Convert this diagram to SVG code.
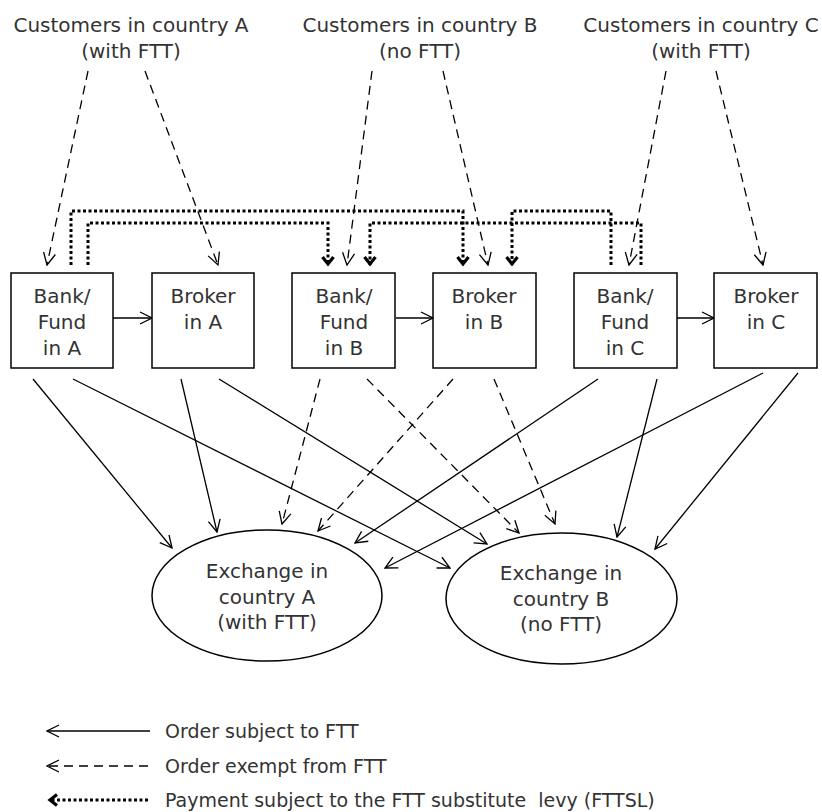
<svg xmlns="http://www.w3.org/2000/svg" width="822" height="812" viewBox="0 0 822 812">
<style>
text{font-family:"DejaVu Sans","Liberation Sans",sans-serif;font-size:20px;fill:#333;text-anchor:middle}
.box{fill:#fff;stroke:#000;stroke-width:1.5}
.ell{fill:#fff;stroke:#000;stroke-width:1.5}
.sol{fill:none;stroke:#000;stroke-width:1.3;marker-end:url(#open)}
.dash{fill:none;stroke:#000;stroke-width:1.3;stroke-dasharray:9 6;marker-end:url(#open)}
.dot{fill:none;stroke:#000;stroke-width:3;stroke-dasharray:3 2.5;marker-end:url(#bold)}
.leg{text-anchor:start;font-size:19px}
</style>
<defs>
<marker id="open" viewBox="0 0 14 14" refX="13" refY="7" markerWidth="14" markerHeight="14" markerUnits="userSpaceOnUse" orient="auto">
<path d="M1,1 L13,7 L1,13" fill="none" stroke="#000" stroke-width="1.3" stroke-dasharray="none"/>
</marker>
<marker id="bold" viewBox="0 0 12 14" refX="10" refY="7" markerWidth="12" markerHeight="14" markerUnits="userSpaceOnUse" orient="auto">
<path d="M2,1.5 L9,7 L2,12.5" fill="none" stroke="#000" stroke-width="3.2" stroke-dasharray="none"/>
</marker>
</defs>

<g id="connectors">
<line class="dash" x1="88" y1="71" x2="47" y2="265"/>
<line class="dash" x1="145" y1="71" x2="218" y2="265"/>
<line class="dash" x1="372" y1="71" x2="347" y2="265"/>
<line class="dash" x1="443" y1="71" x2="488" y2="265"/>
<line class="dash" x1="666" y1="71" x2="629" y2="265"/>
<line class="dash" x1="716" y1="71" x2="763" y2="265"/>
<polyline class="dot" points="71,265 71,211 463,211 463,265"/>
<polyline class="dot" points="88,265 88,223 328,223 328,265"/>
<polyline class="dot" points="641,265 641,223 370,223 370,265"/>
<polyline class="dot" points="611,265 611,211 512,211 512,265"/>
<line class="sol" x1="113" y1="318" x2="152" y2="318"/>
<line class="sol" x1="396" y1="318" x2="433" y2="318"/>
<line class="sol" x1="677" y1="318" x2="714" y2="318"/>
<line class="sol" x1="33" y1="379" x2="172" y2="548"/>
<line class="sol" x1="73" y1="379" x2="450" y2="568"/>
<line class="sol" x1="181" y1="379" x2="217" y2="532"/>
<line class="sol" x1="219" y1="379" x2="487" y2="544"/>
<line class="dash" x1="320" y1="379" x2="282" y2="524"/>
<line class="dash" x1="367" y1="379" x2="519" y2="533"/>
<line class="dash" x1="453" y1="379" x2="318" y2="531"/>
<line class="dash" x1="494" y1="379" x2="555" y2="524"/>
<line class="sol" x1="598" y1="379" x2="355" y2="543"/>
<line class="sol" x1="657" y1="379" x2="617" y2="537"/>
<line class="sol" x1="763" y1="373" x2="385" y2="568"/>
<line class="sol" x1="798" y1="373" x2="655" y2="549"/>
</g>

<g id="custA"><text x="131" y="32">Customers in country A</text><text x="131" y="58">(with FTT)</text></g>
<g id="custB"><text x="420" y="32">Customers in country B</text><text x="420" y="58">(no FTT)</text></g>
<g id="custC"><text x="701" y="32">Customers in country C</text><text x="701" y="58">(with FTT)</text></g>

<g id="bankA"><rect class="box" x="11" y="273" width="102" height="95"/><text x="62" y="303">Bank/</text><text x="62" y="329">Fund</text><text x="62" y="355">in A</text></g>
<g id="brokerA"><rect class="box" x="152" y="273" width="102" height="95"/><text x="203" y="303">Broker</text><text x="203" y="329">in A</text></g>
<g id="bankB"><rect class="box" x="292" y="273" width="103" height="95"/><text x="344" y="303">Bank/</text><text x="344" y="329">Fund</text><text x="344" y="355">in B</text></g>
<g id="brokerB"><rect class="box" x="433" y="273" width="103" height="95"/><text x="484" y="303">Broker</text><text x="484" y="329">in B</text></g>
<g id="bankC"><rect class="box" x="574" y="273" width="103" height="95"/><text x="625" y="303">Bank/</text><text x="625" y="329">Fund</text><text x="625" y="355">in C</text></g>
<g id="brokerC"><rect class="box" x="714" y="273" width="103" height="95"/><text x="766" y="303">Broker</text><text x="766" y="329">in C</text></g>

<g id="exchA"><ellipse class="ell" cx="267" cy="595.5" rx="115" ry="65.5"/><text x="267" y="578">Exchange in</text><text x="267" y="604">country A</text><text x="267" y="629">(with FTT)</text></g>
<g id="exchB"><ellipse class="ell" cx="561.5" cy="598.5" rx="115.5" ry="65.5"/><text x="561" y="580">Exchange in</text><text x="561" y="606">country B</text><text x="561" y="631">(no FTT)</text></g>

<g id="legend">
<line class="sol" x1="150" y1="731" x2="47" y2="731"/>
<line class="dash" x1="148" y1="766" x2="47" y2="766"/>
<line class="dot" x1="148" y1="800" x2="49" y2="800"/>
<text class="leg" x="165" y="738">Order subject to FTT</text>
<text class="leg" x="165" y="773">Order exempt from FTT</text>
<text class="leg" x="165" y="807" xml:space="preserve">Payment subject to the FTT substitute  levy (FTTSL)</text>
</g>
</svg>
